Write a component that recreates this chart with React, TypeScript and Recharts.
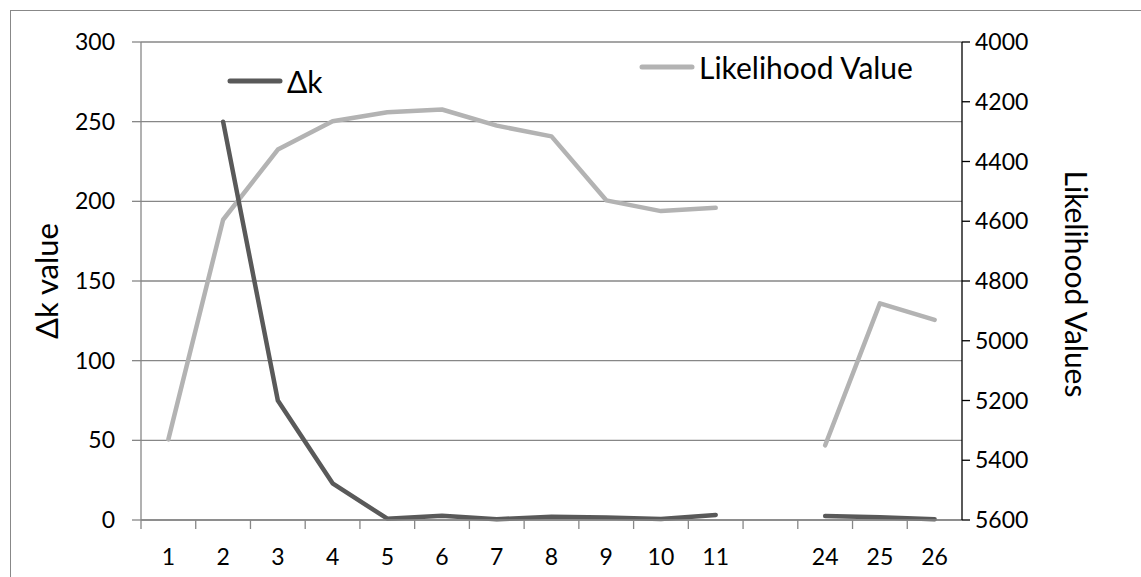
import React from 'react'
import {
  LineChart, Line, XAxis, YAxis, CartesianGrid, Label,
} from 'recharts'

// category labels along the bottom (one blank slot between 11 and 24)
const categories = ['1', '2', '3', '4', '5', '6', '7', '8', '9', '10', '11', '', '24', '25', '26']

// Δk values (left axis)
const deltaK = [null, 250, 75, 23, 0.8, 2.7, 0.5, 2, 1.6, 0.6, 3.2, null, 2.5, 1.8, 0.4]

// likelihood values (right axis, reversed)
const likelihood = [5330, 4595, 4360, 4265, 4235, 4226, 4280, 4316, 4530, 4566, 4555, null, 5350, 4875, 4930]

const leftTicks = [0, 50, 100, 150, 200, 250, 300]
const rightTicks = [4000, 4200, 4400, 4600, 4800, 5000, 5200, 5400, 5600]

const series = [
  { key: 'lik', name: 'Likelihood Value', color: '#B3B3B3', axis: 'r' },
  { key: 'dk', name: 'Δk', color: '#595959', axis: 'l' },
]

const W = 1141
const H = 577
const PLOT_W = 821
const BAND = PLOT_W / categories.length
const FONT = 'Lato, "Open Sans", sans-serif'
const GRID = '#878787'

const chartData = categories.map((c, i) => ({ cat: c, dk: deltaK[i], lik: likelihood[i] }))

const CatTick = ({ x, y, payload }: any) => (
  <g>
    <line x1={x - BAND / 2} x2={x - BAND / 2} y1={y} y2={y + 9} stroke={GRID} strokeWidth={1.3} />
    <text x={x} y={y + 45} textAnchor="middle" fontSize={23} fill="#000" fontFamily={FONT}>
      {payload.value}
    </text>
  </g>
)

// legend entries sit inside the plot, Excel style
const legendPos: Record<string, { x: number; y: number }> = {
  dk: { x: 228, y: 81 },
  lik: { x: 640, y: 67 },
}

export default function App() {
  return (
    <div style={{ position: 'fixed', left: 0, top: 0, width: W, height: H, overflow: 'hidden', background: '#fff' }}>
      <div style={{ position: 'absolute', left: 10, top: 10, width: W + 20, height: H + 20, border: '1px solid #888' }} />
      <div style={{ position: 'absolute', left: 0, top: 0 }}>
        <LineChart width={W} height={H} data={chartData} margin={{ top: 42, right: 99, bottom: 7, left: 81 }}>
          <CartesianGrid xAxisId="cat" yAxisId="l" vertical={false} stroke={GRID} strokeWidth={1.3} />
          <XAxis
            xAxisId="cat"
            dataKey="cat"
            type="category"
            interval={0}
            height={50}
            padding={{ left: BAND / 2, right: BAND / 2 }}
            tickLine={false}
            tickSize={0}
            tickMargin={0}
            axisLine={{ stroke: GRID, strokeWidth: 1.3 }}
            tick={<CatTick />}
          />
          <YAxis
            yAxisId="l"
            domain={[0, 300]}
            ticks={leftTicks}
            width={60}
            tickSize={9}
            tickMargin={17}
            axisLine={{ stroke: GRID, strokeWidth: 1.3 }}
            tickLine={{ stroke: GRID, strokeWidth: 1.3 }}
            tick={{ fill: '#000', fontSize: 23, fontFamily: FONT }}
          >
            <Label
              content={() => (
                <text x={46} y={281} transform="rotate(-90 46 281)" textAnchor="middle"
                  dominantBaseline="central" fontSize={31} fill="#000" fontFamily={FONT}>
                  Δk value
                </text>
              )}
            />
          </YAxis>
          <YAxis
            yAxisId="r"
            orientation="right"
            domain={[4000, 5600]}
            ticks={rightTicks}
            reversed
            width={80}
            tickSize={8}
            tickMargin={5}
            axisLine={{ stroke: '#000', strokeWidth: 1.3 }}
            tickLine={{ stroke: '#000', strokeWidth: 1.3 }}
            tick={{ fill: '#000', fontSize: 23, fontFamily: FONT }}
          >
            <Label
              content={() => (
                <text x={1077} y={284} transform="rotate(90 1077 284)" textAnchor="middle"
                  dominantBaseline="central" fontSize={30} fill="#000" fontFamily={FONT}>
                  Likelihood Values
                </text>
              )}
            />
          </YAxis>
          {series.map(s => (
            <Line
              key={s.key}
              xAxisId="cat"
              yAxisId={s.axis}
              type="linear"
              dataKey={s.key}
              name={s.name}
              stroke={s.color}
              strokeWidth={4.5}
              strokeLinecap="round"
              strokeLinejoin="round"
              dot={false}
              activeDot={false}
              isAnimationActive={false}
            />
          ))}
        </LineChart>
      </div>
      <svg width={W} height={H} style={{ position: 'absolute', left: 0, top: 0, pointerEvents: 'none' }}>
        {series.map(s => {
          const p = legendPos[s.key]
          return (
            <g key={s.key}>
              <line x1={p.x + 2} x2={p.x + 52} y1={p.y} y2={p.y} stroke={s.color} strokeWidth={5} strokeLinecap="round" />
              <text x={p.x + 59} y={p.y} dominantBaseline="central" fontSize={30} fill="#000" fontFamily={FONT}>
                {s.name}
              </text>
            </g>
          )
        })}
      </svg>
    </div>
  )
}
